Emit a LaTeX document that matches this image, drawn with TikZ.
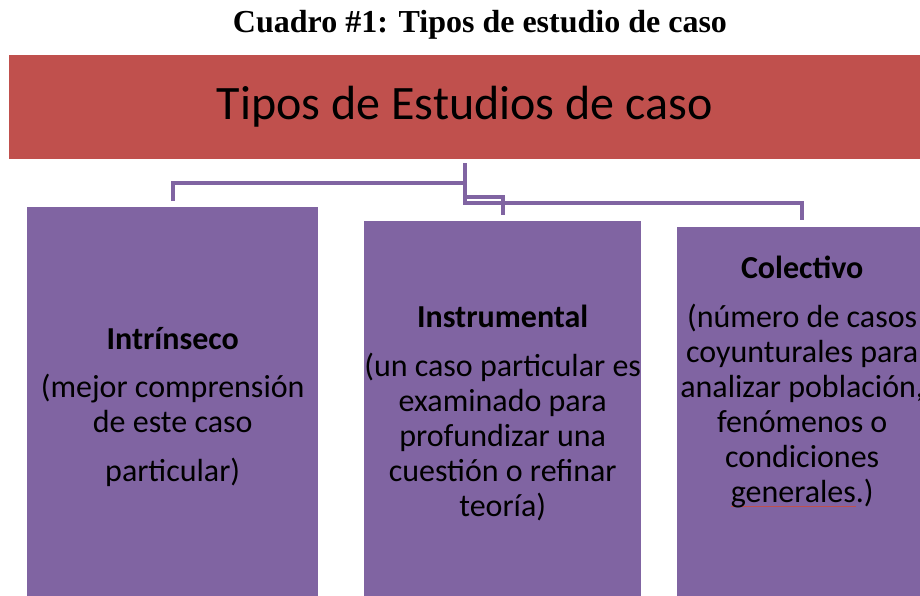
\documentclass[tikz,border=0pt]{standalone}
\usepackage{fontspec}
\setmainfont{Carlito}
\newfontfamily\titlefont{Liberation Serif}
\usetikzlibrary{positioning}
\definecolor{caseRed}{HTML}{C0504D}
\definecolor{casePurple}{HTML}{8064A2}
\newlength\markwd
\newcommand\spellmark[1]{\settowidth\markwd{#1}\rlap{\textcolor{caseRed}{\rule[-4pt]{\markwd}{1.2pt}}}#1}

\begin{document}
\begin{tikzpicture}[x=1pt, y=-1pt,
		conn/.style={draw=casePurple, line width=4pt},
		leaf/.style={fill=casePurple, anchor=north west, minimum height=420pt, inner sep=0pt},
		leaftext/.style={anchor=north, align=center, inner sep=0pt, font=\fontsize{32}{35}\selectfont}
	]
	\useasboundingbox (0,0) rectangle (920,596);
	\clip (0,0) rectangle (920,596);
	\node[font=\titlefont\bfseries\fontsize{32}{36}\selectfont] (title) at (480,25) {Cuadro \#1: Tipos de estudio de caso};
	\node[fill=caseRed, anchor=north west, minimum width=911pt, minimum height=104pt, font=\fontsize{48}{56}\selectfont] (root) at (9,55) {Tipos de Estudios de caso};
	% the three kinds
	\node[leaf, minimum width=291pt] (intr) at (27,207) {};
	\node[leaf, minimum width=277pt] (instr) at (364,221) {};
	\node[leaf, minimum width=250pt] (colec) at (677,227) {};
	\node[leaftext, below=120pt of intr.north] (intrtxt) {\textbf{Intrínseco}\\[13pt](mejor comprensión\\de este caso\\[14pt]particular)};
	\node[leaftext, below=84pt of instr.north] (instrtxt) {\textbf{Instrumental}\\[14pt](un caso particular es\\examinado para\\profundizar una\\cuestión o refinar\\teoría)};
	\node[leaftext, below=29pt of colec.north] (colectxt) {\textbf{Colectivo}\\[14pt](número de casos\\coyunturales para\\analizar población,\\fenómenos o\\condiciones\\\spellmark{generales}.)};
	% connectors
	\draw[conn] ([yshift=-4pt]root.south) -- ([yshift=-46pt]root.south);
	\draw[conn] ([yshift=6pt]intr.north) |- ([yshift=-24pt]root.south);
	\draw[conn] ([yshift=-38pt]root.south) -| ([yshift=6pt]instr.north);
	\draw[conn] ([yshift=-44pt]root.south) -| ([yshift=7pt]colec.north);
\end{tikzpicture}
\end{document}
